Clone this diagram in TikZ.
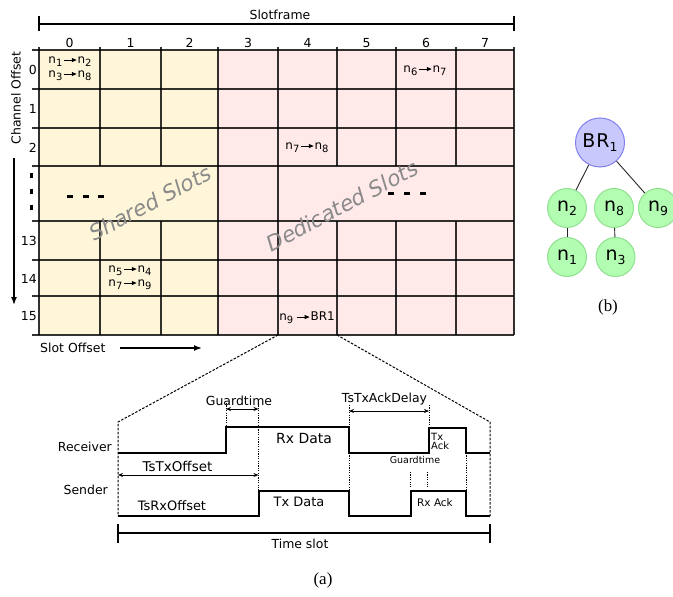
\documentclass[tikz,border=0pt]{standalone}
\usepackage{fontspec}
\setmainfont{DejaVu Sans}
\newfontfamily\seriffam{Liberation Serif}
\usetikzlibrary{arrows.meta}
\definecolor{sharedc}{HTML}{FFF6DA}
\definecolor{dedicc}{HTML}{FFE9E9}
\definecolor{brfill}{HTML}{C8C8FC}
\definecolor{brdraw}{HTML}{8080EE}
\definecolor{gfill}{HTML}{B3FDB3}
\definecolor{gdraw}{HTML}{8FE08F}
\definecolor{slotgray}{HTML}{8A8A8A}
\newcommand\csub[1]{\raisebox{-0.4ex}{\fontsize{10}{10}\selectfont #1}}
\newcommand\tsub[1]{\raisebox{-0.35ex}{\fontsize{12.5}{13}\selectfont #1}}
\newcommand\cn[1]{n\csub{#1}}
\newcommand\car{\kern1bp\tikz[baseline=-0.6ex]\draw[line width=0.8bp,-{Triangle[length=5bp,width=4bp]}] (0bp,0bp)--(13bp,0bp);\kern0.5bp}
\begin{document}
\begin{tikzpicture}[x=1bp,y=-1bp,
  gridline/.style={line width=1.2bp, draw=black, draw opacity=0.8},
  lbl/.style={font=\fontsize{12.5}{14}\selectfont, inner sep=0pt},
  cell/.style={font=\fontsize{12}{14}\selectfont, inner sep=0pt, align=center},
  slots/.style={font=\fontsize{21.5}{24}\selectfont\itshape, text=slotgray, rotate=28, inner sep=0pt},
  dashmark/.style={line width=3bp},
  tnode/.style={circle, draw=gdraw, fill=gfill, line width=1bp, minimum size=39bp, inner sep=0pt, font=\fontsize{19}{20}\selectfont},
  brnode/.style={circle, draw=brdraw, fill=brfill, line width=1bp, minimum size=49bp, inner sep=0pt, font=\fontsize{19}{20}\selectfont},
  treeedge/.style={line width=0.9bp, draw=black!85},
  sig/.style={line width=1.3bp},
  guide/.style={line width=1bp, dash pattern=on 1.2bp off 1.2bp},
  zoomline/.style={line width=1bp, dash pattern=on 2.5bp off 1.5bp},
  dimarrow/.style={line width=1bp, {Stealth[length=5bp,width=4bp]}-{Stealth[length=5bp,width=4bp]}},
  axis/.style={line width=1.5bp, -{Latex[length=8bp,width=6bp]}},
  span/.style={line width=1.2bp},
]
\useasboundingbox (0,0) rectangle (673,597);

% fills
\fill[sharedc] (39,50) rectangle (218,335);
\fill[dedicc] (218,50) rectangle (514,335);

% grid
\foreach \yy in {50,89,128,166,221,260,296,335}
  \draw[gridline] (32,\yy) -- (514,\yy);
\foreach \xx in {39,218,278,514}
  \draw[gridline] (\xx,47) -- (\xx,335);
\foreach \xx in {100,161,337,396,456}{
  \draw[gridline] (\xx,47) -- (\xx,166);
  \draw[gridline] (\xx,221) -- (\xx,335);
}

% slotframe
\coordinate (sfl) at (39,24);
\coordinate (sfr) at (514,24);
\draw[span] (sfl) -- (sfr);
\draw[span] (39,16) -- (39,31);
\draw[span] (514,16) -- (514,31);
\node[lbl] (sf) at (280,15) {Slotframe};

% column labels
\foreach \xx/\t in {69.5/0,130.5/1,189.5/2,248/3,307.5/4,366.5/5,426/6,485/7}
  \node[lbl] (c\t) at (\xx,43) {\t};

% row labels
\foreach \yy/\t in {70/0,109/1,148/2,240.5/13,278.5/14,316/15}
  \node[lbl, anchor=east] (r\t) at (37,\yy) {\t};
\foreach \yy in {176,191,207}
  \draw[dashmark] (31,\yy-2.5) -- (31,\yy+2.5);

% channel offset
\node[lbl, rotate=90] (co) at (16,98) {Channel Offset};
\coordinate (cot) at (14,158);
\coordinate (cob) at (14,305);
\draw[axis] (cot) -- (cob);

% slot offset
\node[lbl, anchor=west] (so) at (40,348) {Slot Offset};
\coordinate (sot) at (120,348);
\coordinate (soh) at (202,348);
\draw[axis] (sot) -- (soh);

% dashes
\foreach \xx in {67,83,98}
  \draw[dashmark] (\xx,196) -- (\xx+6,196);
\foreach \xx in {388,404,420}
  \draw[dashmark] (\xx,193) -- (\xx+6,193);

% slot names
\node[slots] (sh) at (150,203) {Shared Slots};
\node[slots] (de) at (342,206) {Dedicated Slots};

% cell labels
\node[cell] (l00) at (70,69) {\cn{1}\car\cn{2}\\\cn{3}\car\cn{8}};
\node[cell] (l60) at (425,71) {\cn{6}\car\cn{7}};
\node[cell] (l42) at (307,148) {\cn{7}\car\cn{8}};
\node[cell] (l114) at (130,278) {\cn{5}\car\cn{4}\\\cn{7}\car\cn{9}};
\node[cell] (l415) at (307,318) {\cn{9}\,\car BR1};

% tree
\node[brnode] (br) at (600,142.5) {B\kern1bp R\tsub{1}};
\node[tnode] (n2) at (567,208) {n\tsub{2}};
\node[tnode] (n8) at (614,208) {n\tsub{8}};
\node[tnode] (n9) at (658,208) {n\tsub{9}};
\node[tnode] (n1) at (567,257) {n\tsub{1}};
\node[tnode] (n3) at (615.5,257) {n\tsub{3}};
\draw[treeedge] (br) -- (n2);
\draw[treeedge] (br) -- (n9);
\draw[treeedge] (n2) -- (n1);
\draw[treeedge] (n8) -- (n3);
\node[font=\seriffam\fontsize{17}{18}\selectfont, inner sep=0pt] (capb) at (608,307) {(b)};

% zoom lines
\coordinate (zl0) at (278,335);
\coordinate (zr0) at (337,335);
\coordinate (zl1) at (118,422);
\coordinate (zr1) at (490,422);
\coordinate (zl2) at (118,516);
\coordinate (zr2) at (490,516);
\draw[zoomline] (zl0) -- (zl1) -- (zl2);
\draw[zoomline] (zr0) -- (zr1) -- (zr2);

% signals
\draw[sig] (118,453) -- (226,453) -- (226,427) -- (349,427) -- (349,453) -- (429,453) -- (429,428) -- (466,428) -- (466,453) -- (490,453);
\draw[sig] (118,516) -- (259,516) -- (259,491) -- (349,491) -- (349,516) -- (411,516) -- (411,491) -- (466,491) -- (466,516) -- (490,516);

% guides
\draw[guide] (226,403) -- (226,427);
\draw[guide] (258.5,403) -- (258.5,491);
\draw[guide] (349,405) -- (349,491);
\draw[guide] (429,405) -- (429,428);
\draw[guide] (466,453) -- (466,491);
\draw[guide] (410,472) -- (410,487);
\draw[guide] (427,472) -- (427,487);

% dimension arrows
\coordinate (gt1) at (226,409);
\coordinate (gt2) at (258.5,409);
\draw[dimarrow] (gt1) -- (gt2);
\coordinate (ad1) at (349,411);
\coordinate (ad2) at (429,411);
\draw[dimarrow] (ad1) -- (ad2);
\coordinate (to1) at (118,475);
\coordinate (to2) at (258.5,475);
\draw[dimarrow] (to1) -- (to2);

% timing texts
\node[lbl, anchor=east] (rcv) at (112,447) {Receiver};
\node[lbl, anchor=east] (snd) at (108,490) {Sender};
\node[lbl] (gtt) at (239,401) {Guardtime};
\node[lbl] (adt) at (384.5,399) {TsTxAckDelay};
\node[lbl, font=\fontsize{13.5}{14}\selectfont] (txo) at (177.5,466) {TsTxOffset};
\node[lbl, font=\fontsize{13}{14}\selectfont] (rxo) at (172,506) {TsRxOffset};
\node[lbl, font=\fontsize{14}{15}\selectfont] (rxd) at (304,439) {Rx Data};
\node[lbl, font=\fontsize{13}{14}\selectfont] (txd) at (299,502) {Tx Data};
\node[lbl, font=\fontsize{10}{10}\selectfont, align=left, anchor=west] (txa) at (431,441) {Tx\\[-1bp]Ack};
\node[lbl, font=\fontsize{10.5}{11}\selectfont] (rxa) at (435,503) {Rx Ack};
\node[lbl, font=\fontsize{9.5}{10}\selectfont] (gts) at (415,460) {Guardtime};

% time slot
\coordinate (ts1) at (118,533);
\coordinate (ts2) at (490,533);
\draw[span] (ts1) -- (ts2);
\draw[span] (118,524) -- (118,543);
\draw[span] (490,524) -- (490,543);
\node[lbl] (tst) at (300,544) {Time slot};

\node[font=\seriffam\fontsize{17}{18}\selectfont, inner sep=0pt] (capa) at (323,580) {(a)};
\end{tikzpicture}
\end{document}
